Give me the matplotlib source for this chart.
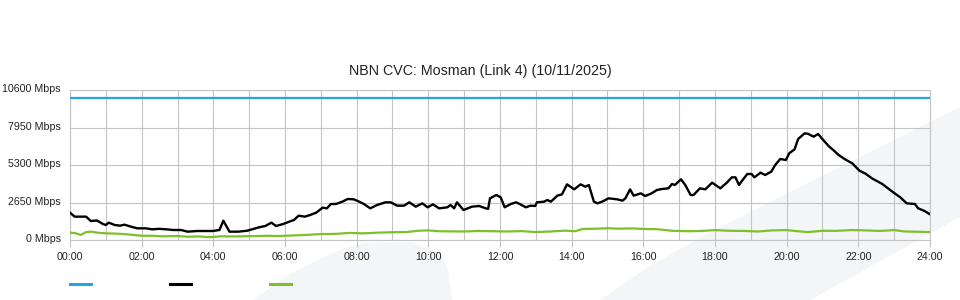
import matplotlib
matplotlib.use('Agg')
import matplotlib.pyplot as plt
from matplotlib.patches import Polygon
from matplotlib.lines import Line2D
from matplotlib.transforms import ScaledTranslation

plt.rcParams['font.family'] = ['Liberation Sans', 'DejaVu Sans']

# link capacity (flat)
capacity = 10000

# download traffic (hours, Mbps)
down_t = [0.0, 0.13, 0.30, 0.45, 0.58, 0.75, 0.92, 1.00, 1.08, 1.25, 1.40, 1.52, 1.70, 1.88,
          2.12, 2.30, 2.48, 2.70, 2.87, 3.10, 3.28, 3.55, 3.80, 3.98, 4.17, 4.28, 4.45,
          4.70, 4.95, 5.28, 5.45, 5.62, 5.75, 5.95, 6.12, 6.25, 6.38, 6.55, 6.70, 6.87,
          7.05, 7.17, 7.28, 7.42, 7.60, 7.75, 7.92, 8.07, 8.20, 8.38, 8.57, 8.80, 8.95,
          9.13, 9.32, 9.47, 9.65, 9.83, 9.98, 10.13, 10.30, 10.53, 10.62, 10.72, 10.80,
          10.98, 11.22, 11.42, 11.60, 11.67, 11.72, 11.90, 12.02, 12.13, 12.30, 12.45,
          12.57, 12.72, 12.85, 12.98, 13.03, 13.23, 13.32, 13.42, 13.60, 13.73, 13.87,
          14.07, 14.25, 14.38, 14.48, 14.62, 14.72, 14.85, 15.03, 15.27, 15.42, 15.50,
          15.63, 15.73, 15.93, 16.05, 16.23, 16.38, 16.52, 16.70, 16.80, 16.88, 17.05,
          17.17, 17.32, 17.40, 17.58, 17.73, 17.92, 18.15, 18.33, 18.47, 18.57, 18.67,
          18.75, 18.90, 19.02, 19.10, 19.27, 19.40, 19.57, 19.68, 19.82, 19.98, 20.07,
          20.22, 20.32, 20.50, 20.60, 20.75, 20.88, 20.98, 21.17, 21.32, 21.45, 21.63,
          21.83, 22.03, 22.20, 22.38, 22.67, 22.95, 23.17, 23.35, 23.58, 23.67, 23.85, 24.0]
down_v = [1930, 1650, 1650, 1650, 1340, 1380, 1130, 1060, 1225, 1060, 1013, 1084, 943, 825,
          825, 754, 789, 754, 707, 707, 589, 636, 636, 636, 707, 1366, 589,
          589, 660, 900, 990, 1225, 990, 1130, 1296, 1413, 1720, 1649, 1767, 1930,
          2285, 2238, 2544, 2544, 2709, 2897, 2874, 2709, 2544, 2238, 2473, 2662, 2662,
          2426, 2426, 2662, 2356, 2592, 2308, 2520, 2238, 2308, 2473, 2238, 2662,
          2120, 2356, 2403, 2238, 2200, 2945, 3180, 3015, 2308, 2544, 2662,
          2520, 2308, 2426, 2403, 2662, 2709, 2827, 2709, 3132, 3226, 3933,
          3580, 3933, 3768, 3886, 2709, 2592, 2709, 2945, 2874, 2780, 2950,
          3580, 3132, 3297, 3109, 3297, 3533, 3604, 3651, 3957, 3886, 4288,
          3886, 3180, 3180, 3651, 3580, 4052, 3651, 4052, 4429, 4429, 3886,
          4170, 4664, 4664, 4429, 4758, 4594, 4829, 5300, 5724, 5653, 6124,
          6407, 7137, 7537, 7500, 7302, 7490, 7184, 6643, 6313, 6007, 5700,
          5418, 4900, 4688, 4358, 3957, 3415, 3015, 2592, 2544, 2238, 2049, 1814]

# upload traffic (hours, Mbps)
up_t = [0.0, 0.15, 0.30, 0.45, 0.60, 0.75, 1.0, 1.3, 1.6, 2.0, 2.3, 2.6, 3.0, 3.3, 3.6, 3.9,
        4.2, 4.5, 4.8, 5.2, 5.5, 5.8, 6.2, 6.6, 7.0, 7.4, 7.8, 8.2, 8.6, 9.0, 9.4, 9.7,
        10.0, 10.3, 10.6, 11.0, 11.4, 11.8, 12.2, 12.6, 13.0, 13.4, 13.8, 14.1, 14.3,
        14.7, 15.0, 15.3, 15.7, 16.0, 16.4, 16.8, 17.3, 17.7, 18.0, 18.4, 18.8, 19.2,
        19.6, 20.0, 20.3, 20.6, 21.0, 21.4, 21.8, 22.2, 22.6, 23.0, 23.3, 23.7, 24.0]
up_v = [520, 480, 360, 560, 590, 520, 470, 450, 400, 300, 300, 260, 280, 230, 250, 200,
        260, 250, 260, 280, 300, 280, 320, 360, 420, 430, 500, 470, 520, 550, 560, 650,
        680, 620, 610, 600, 640, 620, 600, 630, 560, 600, 660, 620, 780,
        800, 830, 800, 820, 780, 760, 650, 620, 650, 700, 650, 640, 600,
        680, 700, 620, 560, 650, 650, 700, 680, 640, 700, 600, 580, 560]

y_ticks = [0, 2650, 5300, 7950, 10600]
y_labels = ['0 Mbps', '2650 Mbps', '5300 Mbps', '7950 Mbps', '10600 Mbps']
x_ticks = list(range(0, 25, 2))
x_labels = ['%02d:00' % h for h in x_ticks]

title = 'NBN CVC: Mosman (Link 4) (10/11/2025)'

blue = '#22a5e0'
green = '#7dc02a'
grid = '#c4c4c4'
shade = '#f4f5f7'

W, H = 960, 300
fig = plt.figure(figsize=(9.6, 3.0), dpi=100)

# background watermark shapes (pixel outlines)
def px(pts):
    return [(x / W, 1 - y / H) for x, y in pts]

blob = [(253, 300), (290, 274), (317, 260), (345, 248), (365, 243), (410, 242),
        (440, 252), (448, 270), (452, 300)]
band = [(600, 300), (650, 266), (703, 236), (780, 197), (934, 120), (960, 107),
        (960, 217), (810, 300)]
for shape in (blob, band):
    fig.add_artist(Polygon(px(shape), closed=True, transform=fig.transFigure,
                           facecolor=shade, edgecolor='none', zorder=-5))

ax = fig.add_axes([70 / W, 1 - 240 / H, 860 / W, 150 / H])
ax.set_facecolor('none')

ax.axhline(capacity, color=blue, lw=1.6, zorder=3)
ax.plot(down_t, down_v, color='black', lw=1.7, zorder=4)
ax.plot(up_t, up_v, color=green, lw=1.6, zorder=3)

ax.set_xlim(0, 24)
ax.set_ylim(0, 10600)

ax.set_xticks(x_ticks)
ax.set_xticklabels(x_labels)
ax.set_xticks(range(1, 24, 2), minor=True)
ax.set_yticks(y_ticks)
ax.set_yticklabels(y_labels)

ax.grid(True, which='both', color=grid, lw=0.8)
ax.set_axisbelow(True)
ax.tick_params(axis='x', which='major', length=5, width=0.8, color=grid,
               labelsize=7.7, pad=4, labelcolor='#222222')
ax.tick_params(axis='x', which='minor', length=0)
ax.tick_params(axis='y', length=0, labelsize=7.7, pad=6.5, labelcolor='#222222')
# y labels sit a touch above their grid lines
shift = ScaledTranslation(0, 2 / 100, fig.dpi_scale_trans)
for lab in ax.get_yticklabels():
    lab.set_transform(lab.get_transform() + shift)
for s in ax.spines.values():
    s.set_color(grid)
    s.set_linewidth(0.8)

fig.text(0.5, 1 - 71 / H, title, ha='center', va='center', fontsize=10.3, color='#222222')

handles = [Line2D([], [], color=c, lw=2.2) for c in (blue, 'black', green)]
fig.legend(handles, ['', '', ''], ncol=3, loc='center left',
           bbox_to_anchor=(70 / W, 1 - 285 / H), frameon=False,
           handlelength=2.0, handletextpad=0, columnspacing=7.35,
           borderpad=0, borderaxespad=0, fontsize=7.7)

fig.savefig('out.png', dpi=100)
